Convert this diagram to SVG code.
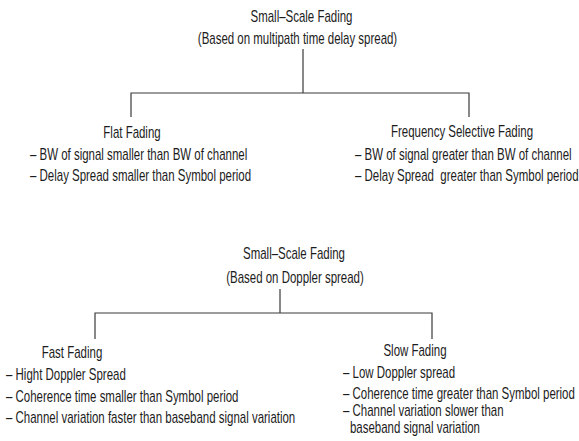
<svg xmlns="http://www.w3.org/2000/svg" width="579" height="441" viewBox="0 0 579 441">
  <style>
    /* Narrow sans: Arial metrics condensed horizontally per text via transform */
    text { font-family: "Liberation Sans", Arial, sans-serif; font-size: 16px; fill: #1c1c1c; }
    .c { text-anchor: middle; }
    .link { stroke: #3a3a3a; stroke-width: 1.2; fill: none; }
  </style>
  <rect width="579" height="441" fill="#fff"/>

  <!-- Tree 1: classification by multipath time delay spread -->
  <g id="delay-root">
    <text class="c" transform="translate(301.5 22) scale(.717 1)">Small–Scale Fading</text>
    <text class="c" transform="translate(297.5 44) scale(.717 1)">(Based on multipath time delay spread)</text>
  </g>
  <g id="flat-fading">
    <text class="c" transform="translate(132 138) scale(.717 1)">Flat Fading</text>
    <text transform="translate(30 160) scale(.717 1)">– BW of signal smaller than BW of channel</text>
    <text transform="translate(30 181) scale(.717 1)">– Delay Spread smaller than Symbol period</text>
  </g>
  <g id="freq-selective-fading">
    <text class="c" transform="translate(462 137) scale(.717 1)">Frequency Selective Fading</text>
    <text transform="translate(355 160) scale(.717 1)">– BW of signal greater than BW of channel</text>
    <text transform="translate(355 181) scale(.717 1)" xml:space="preserve">– Delay Spread  greater than Symbol period</text>
  </g>

  <!-- Tree 2: classification by Doppler spread -->
  <g id="doppler-root">
    <text class="c" transform="translate(294 259) scale(.717 1)">Small–Scale Fading</text>
    <text class="c" transform="translate(295 283) scale(.717 1)">(Based on Doppler spread)</text>
  </g>
  <g id="fast-fading">
    <text class="c" transform="translate(72 358) scale(.717 1)">Fast Fading</text>
    <text transform="translate(6 380) scale(.717 1)">– Hight Doppler Spread</text>
    <text transform="translate(6 402) scale(.717 1)">– Coherence time smaller than Symbol period</text>
    <text transform="translate(6 423) scale(.717 1)">– Channel variation faster than baseband signal variation</text>
  </g>
  <g id="slow-fading">
    <text class="c" transform="translate(415 356) scale(.717 1)">Slow Fading</text>
    <text transform="translate(343 378) scale(.717 1)">– Low Doppler spread</text>
    <text transform="translate(343 399) scale(.717 1)">– Coherence time greater than Symbol period</text>
    <text transform="translate(343 416) scale(.717 1)">– Channel variation slower than</text>
    <text transform="translate(350 433) scale(.717 1)">baseband signal variation</text>
  </g>

  <g id="connectors">
    <path class="link" d="M303 49 V93 M131 117 V93 H469 V117"/>
    <path class="link" d="M280 289 V313 M95 339 V313 H432 V339"/>
  </g>
</svg>
